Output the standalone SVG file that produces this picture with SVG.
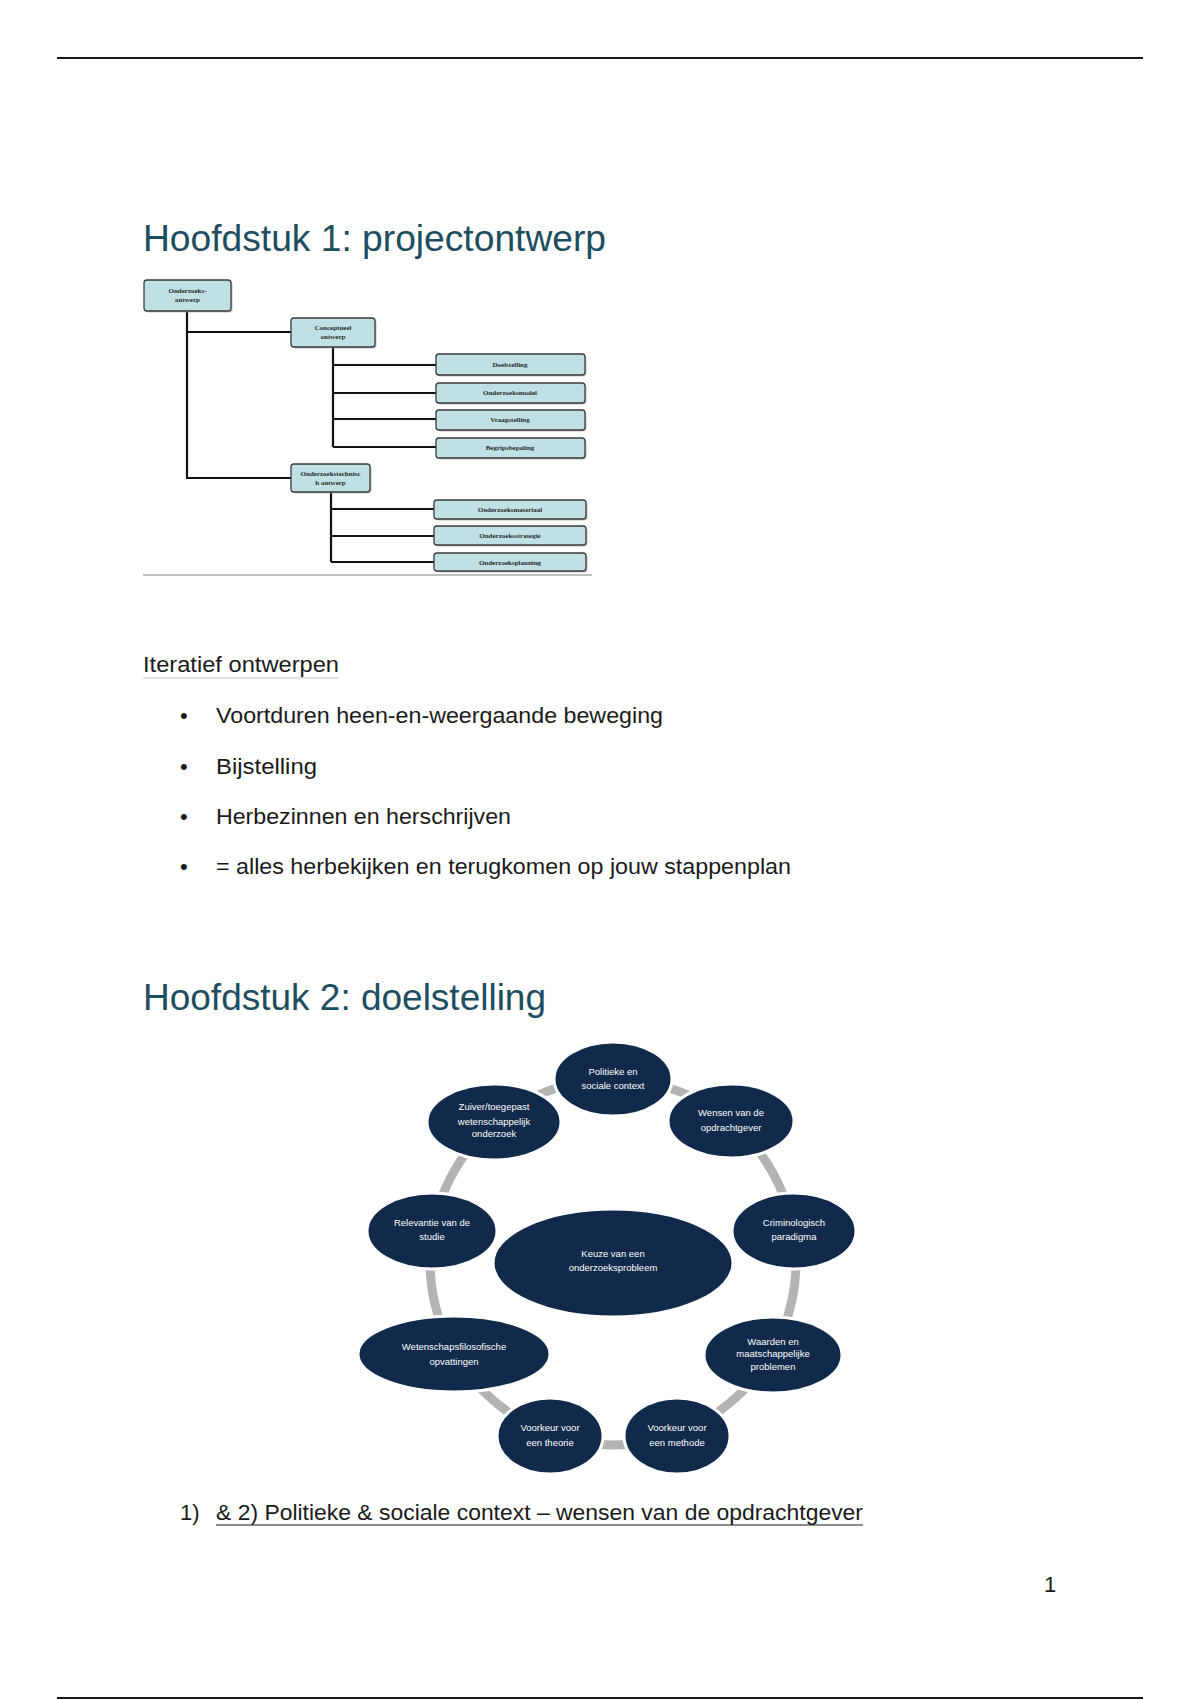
<svg xmlns="http://www.w3.org/2000/svg" width="1200" height="1700" viewBox="0 0 1200 1700">
<style>
.h1{font-family:"Liberation Sans",Arial,sans-serif;font-size:36px;fill:#1d4d5e}
.body{font-family:"Liberation Sans",Arial,sans-serif;font-size:22px;fill:#1a1a1a}
.box{fill:#bfe1e5;stroke:#3b3b3b;stroke-width:1.3}
.shadow{fill:#9a9a9a;opacity:0.6}
.bt{font-family:"Liberation Serif","Times New Roman",serif;font-size:7px;font-weight:bold;fill:#2a2a2a;text-anchor:middle}
.conn{stroke:#111;stroke-width:2.2;fill:none}
.node{fill:#11294a;stroke:#ffffff;stroke-width:3}
.nt{font-family:"Liberation Sans",Arial,sans-serif;font-size:9.5px;fill:#ffffff;text-anchor:middle}
.ring{fill:none;stroke:#b3b3b3;stroke-width:9}
</style>
<rect width="1200" height="1700" fill="#ffffff"/>
<line x1="57" y1="58" x2="1143" y2="58" stroke="#1a1a1a" stroke-width="2"/>
<line x1="57" y1="1698" x2="1143" y2="1698" stroke="#1a1a1a" stroke-width="2"/>

<text class="h1" x="143" y="251" textLength="463" lengthAdjust="spacingAndGlyphs">Hoofdstuk 1: projectontwerp</text>

<!-- tree connectors -->
<g id="tree-connectors">
<path class="conn" d="M187 311 V478 H291 M187 332 H291"/>
<path class="conn" d="M333 347 V447 M333 365 H436 M333 393 H436 M333 419 H436 M333 447 H436"/>
<path class="conn" d="M331 492 V562 M331 509 H434 M331 536 H434 M331 562 H434"/>
</g>

<g id="n-onderzoeksontwerp">
<rect class="shadow" x="145.5" y="281.5" width="87" height="31" rx="3"/>
<rect class="box" x="144" y="280" width="87" height="31" rx="3"/>
<text class="bt" x="187.5" y="293">Onderzoeks-</text>
<text class="bt" x="187.5" y="302">ontwerp</text>
</g>
<g id="n-conceptueel">
<rect class="shadow" x="292.5" y="319.5" width="84" height="29" rx="3"/>
<rect class="box" x="291" y="318" width="84" height="29" rx="3"/>
<text class="bt" x="333" y="330">Conceptueel</text>
<text class="bt" x="333" y="339">ontwerp</text>
</g>
<g id="n-doelstelling">
<rect class="shadow" x="437.5" y="355.5" width="149" height="21" rx="3"/>
<rect class="box" x="436" y="354" width="149" height="21" rx="3"/>
<text class="bt" x="510" y="367">Doelstelling</text>
</g>
<g id="n-onderzoeksmodel">
<rect class="shadow" x="437.5" y="384.5" width="149" height="20" rx="3"/>
<rect class="box" x="436" y="383" width="149" height="20" rx="3"/>
<text class="bt" x="510" y="395">Onderzoeksmodel</text>
</g>
<g id="n-vraagstelling">
<rect class="shadow" x="437.5" y="411.5" width="149" height="20" rx="3"/>
<rect class="box" x="436" y="410" width="149" height="20" rx="3"/>
<text class="bt" x="510" y="422">Vraagstelling</text>
</g>
<g id="n-begripsbepaling">
<rect class="shadow" x="437.5" y="439.5" width="149" height="20" rx="3"/>
<rect class="box" x="436" y="438" width="149" height="20" rx="3"/>
<text class="bt" x="510" y="450">Begripsbepaling</text>
</g>
<g id="n-technisch">
<rect class="shadow" x="292.5" y="465.5" width="79" height="28" rx="3"/>
<rect class="box" x="291" y="464" width="79" height="28" rx="3"/>
<text class="bt" x="330.5" y="476">Onderzoekstechnisc</text>
<text class="bt" x="330.5" y="485">h ontwerp</text>
</g>
<g id="n-materiaal">
<rect class="shadow" x="435.5" y="501.5" width="152" height="19" rx="3"/>
<rect class="box" x="434" y="500" width="152" height="19" rx="3"/>
<text class="bt" x="510" y="512">Onderzoeksmateriaal</text>
</g>
<g id="n-strategie">
<rect class="shadow" x="435.5" y="527.5" width="152" height="19" rx="3"/>
<rect class="box" x="434" y="526" width="152" height="19" rx="3"/>
<text class="bt" x="510" y="538">Onderzoeksstrategie</text>
</g>
<g id="n-planning">
<rect class="shadow" x="435.5" y="554.5" width="152" height="18" rx="3"/>
<rect class="box" x="434" y="553" width="152" height="18" rx="3"/>
<text class="bt" x="510" y="565">Onderzoeksplanning</text>
</g>
<line x1="143" y1="575" x2="592" y2="575" stroke="#aaaaaa" stroke-width="1.5"/>

<text class="body" x="143" y="672" textLength="196" lengthAdjust="spacingAndGlyphs">Iteratief ontwerpen</text>
<line x1="143" y1="678" x2="339" y2="678" stroke="#c8c8c8" stroke-width="1.2"/>

<text class="body" x="180" y="723">•</text>
<text class="body" x="216" y="723" textLength="447" lengthAdjust="spacingAndGlyphs">Voortduren heen-en-weergaande beweging</text>
<text class="body" x="180" y="774">•</text>
<text class="body" x="216" y="774" textLength="101" lengthAdjust="spacingAndGlyphs">Bijstelling</text>
<text class="body" x="180" y="824">•</text>
<text class="body" x="216" y="824" textLength="295" lengthAdjust="spacingAndGlyphs">Herbezinnen en herschrijven</text>
<text class="body" x="180" y="874">•</text>
<text class="body" x="216" y="874" textLength="575" lengthAdjust="spacingAndGlyphs">= alles herbekijken en terugkomen op jouw stappenplan</text>

<text class="h1" x="143" y="1010" textLength="403" lengthAdjust="spacingAndGlyphs">Hoofdstuk 2: doelstelling</text>

<g id="ring-connectors">
<circle class="ring" cx="613" cy="1262" r="183"/>
</g>

<g id="c-center">
<ellipse class="node" cx="613" cy="1263" rx="120" ry="54"/>
<text class="nt" x="613" y="1257">Keuze van een</text>
<text class="nt" x="613" y="1271">onderzoeksprobleem</text>
</g>
<g id="c-politieke">
<ellipse class="node" cx="613" cy="1079" rx="59" ry="37"/>
<text class="nt" x="613" y="1075">Politieke en</text>
<text class="nt" x="613" y="1089">sociale context</text>
</g>
<g id="c-wensen">
<ellipse class="node" cx="731" cy="1121" rx="63" ry="37"/>
<text class="nt" x="731" y="1116">Wensen van de</text>
<text class="nt" x="731" y="1131">opdrachtgever</text>
</g>
<g id="c-crim">
<ellipse class="node" cx="794" cy="1231" rx="62" ry="38"/>
<text class="nt" x="794" y="1226">Criminologisch</text>
<text class="nt" x="794" y="1240">paradigma</text>
</g>
<g id="c-waarden">
<ellipse class="node" cx="773" cy="1355" rx="69" ry="38"/>
<text class="nt" x="773" y="1345">Waarden en</text>
<text class="nt" x="773" y="1357">maatschappelijke</text>
<text class="nt" x="773" y="1370">problemen</text>
</g>
<g id="c-methode">
<ellipse class="node" cx="677" cy="1436" rx="53" ry="38"/>
<text class="nt" x="677" y="1431">Voorkeur voor</text>
<text class="nt" x="677" y="1446">een methode</text>
</g>
<g id="c-theorie">
<ellipse class="node" cx="550" cy="1436" rx="53" ry="38"/>
<text class="nt" x="550" y="1431">Voorkeur voor</text>
<text class="nt" x="550" y="1446">een theorie</text>
</g>
<g id="c-wetenschaps">
<ellipse class="node" cx="454" cy="1354" rx="96" ry="38"/>
<text class="nt" x="454" y="1350">Wetenschapsfilosofische</text>
<text class="nt" x="454" y="1365">opvattingen</text>
</g>
<g id="c-relevantie">
<ellipse class="node" cx="432" cy="1231" rx="65" ry="38"/>
<text class="nt" x="432" y="1226">Relevantie van de</text>
<text class="nt" x="432" y="1240">studie</text>
</g>
<g id="c-zuiver">
<ellipse class="node" cx="494" cy="1122" rx="67" ry="38"/>
<text class="nt" x="494" y="1110">Zuiver/toegepast</text>
<text class="nt" x="494" y="1125">wetenschappelijk</text>
<text class="nt" x="494" y="1137">onderzoek</text>
</g>

<text class="body" x="180" y="1520">1)</text>
<text class="body" x="216" y="1520" textLength="647" lengthAdjust="spacingAndGlyphs">&amp; 2) Politieke &amp; sociale context – wensen van de opdrachtgever</text>
<line x1="216" y1="1525" x2="863" y2="1525" stroke="#1a1a1a" stroke-width="1.2"/>

<text class="body" x="1044" y="1592" font-size="21">1</text>
</svg>
